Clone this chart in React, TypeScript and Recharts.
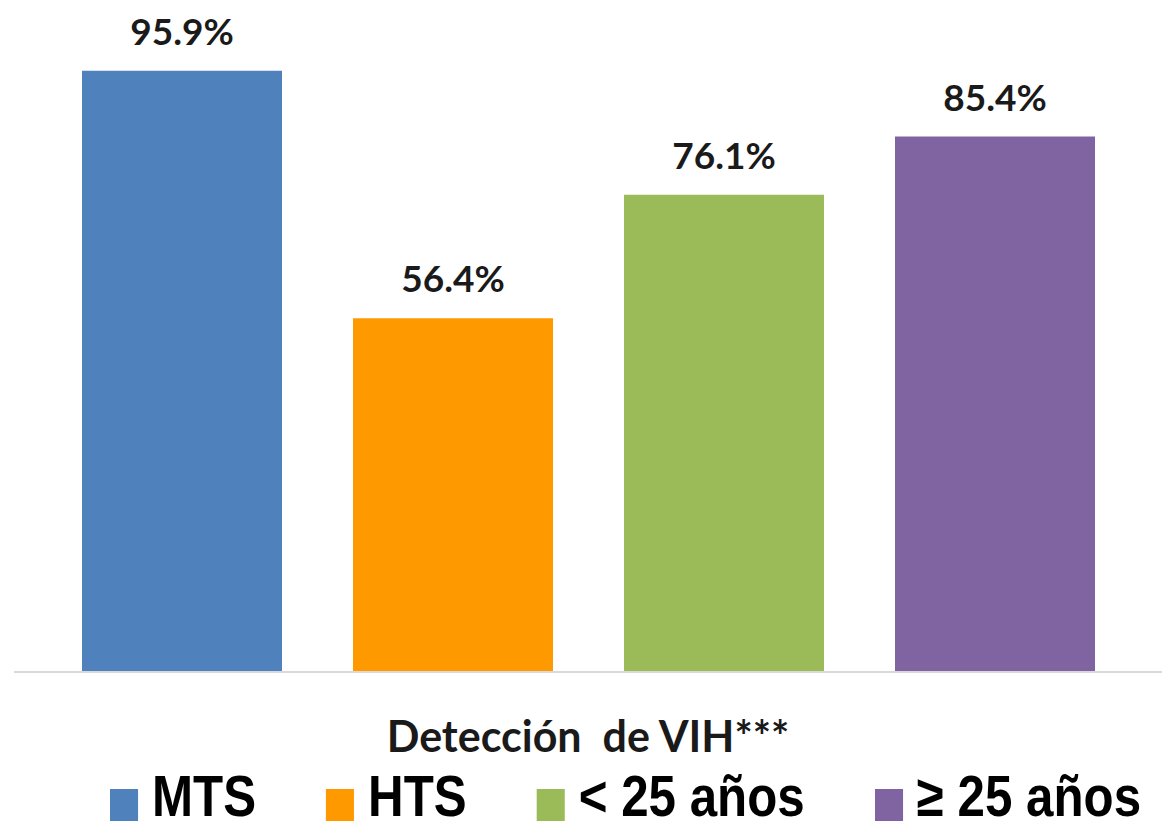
import { BarChart, Bar, XAxis, YAxis, LabelList } from "recharts";

const category = "Detección  de VIH***";
const seriesKeys = ["mts", "hts", "menor25", "mayor25"];
const seriesNames = ["MTS", "HTS", "< 25 años", "≥ 25 años"];
const seriesValues = [95.9, 56.4, 76.1, 85.4];
const seriesColors = ["#4F81BD", "#FF9900", "#9BBB59", "#8064A2"];

const data = [
  {
    name: category,
    ...Object.fromEntries(seriesKeys.map((k, i) => [k, seriesValues[i]])),
  },
];

const labelFont = "Lato, 'Open Sans', sans-serif";
const legendFont = "'Liberation Sans', Arial, sans-serif";
const squeeze = 0.85;

function TitleTick({ x, y, payload }: any) {
  return (
    <text
      x={x}
      y={y + 72}
      textAnchor="middle"
      fill="#1a1a1a"
      fontFamily={labelFont}
      fontWeight={700}
      fontSize={43}
      style={{ whiteSpace: "pre" }}
    >
      {payload.value}
    </text>
  );
}

export default function App() {
  return (
    <div style={{ position: "absolute", left: 0, top: 0, width: 1162, height: 827, background: "#fff", overflow: "hidden" }}>
      <BarChart
        width={1162}
        height={827}
        data={data}
        margin={{ top: 45, right: 0, left: 14, bottom: 0 }}
        barSize={200}
        barGap={71}
      >
        <XAxis
          dataKey="name"
          height={155}
          axisLine={{ stroke: "#d9d9d9", strokeWidth: 2 }}
          tickLine={false}
          tick={<TitleTick />}
          interval={0}
        />
        <YAxis hide domain={[0, 100]} />
        {seriesKeys.map((k, i) => (
          <Bar key={k} dataKey={k} name={seriesNames[i]} fill={seriesColors[i]} isAnimationActive={false}>
            <LabelList
              dataKey={k}
              position="top"
              offset={26}
              formatter={(v: any) => `${Number(v).toFixed(1)}%`}
              fill="#1a1a1a"
              fontFamily={labelFont}
              fontWeight={700}
              fontSize={37}
            />
          </Bar>
        ))}
      </BarChart>
      <div
        style={{
          position: "absolute",
          left: 110,
          top: 767,
          display: "flex",
          alignItems: "flex-end",
          fontFamily: legendFont,
          fontWeight: 700,
          fontSize: 58,
          color: "#000",
          lineHeight: "58px",
          whiteSpace: "nowrap",
          transform: `scaleX(${squeeze})`,
          transformOrigin: "left top",
        }}
      >
        {seriesNames.map((n, i) => (
          <div key={n} style={{ display: "flex", alignItems: "flex-end", marginRight: 70 / squeeze }}>
            <span
              style={{
                display: "inline-block",
                width: 28 / squeeze,
                height: 32,
                background: seriesColors[i],
                marginRight: 14 / squeeze,
                marginBottom: 4,
              }}
            />
            <span>{n}</span>
          </div>
        ))}
      </div>
    </div>
  );
}
